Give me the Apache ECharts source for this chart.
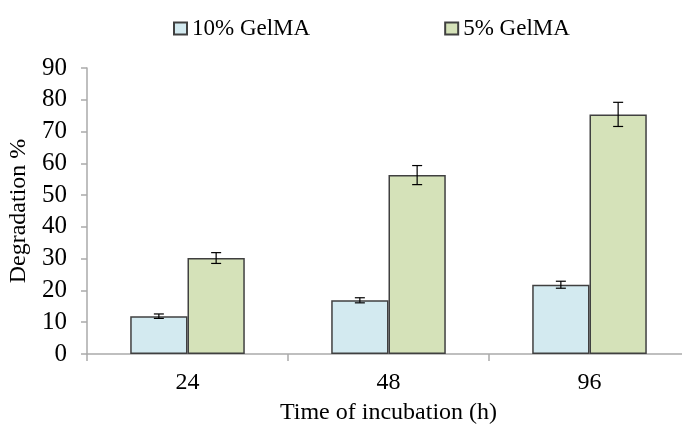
<!DOCTYPE html>
<html>
<head>
<meta charset="utf-8">
<script src="https://cdn.jsdelivr.net/npm/echarts@6/dist/echarts.min.js"></script>
<style>
html,body{margin:0;padding:0;background:#fff;}
#chart{width:682px;height:426px;}
</style>
</head>
<body>
<div id="chart"></div>
<script>
const categories = ['24', '48', '96'];
const seriesNames = ['10% GelMA', '5% GelMA'];
const gel10 = [11.9, 16.9, 21.8];
const gel10Err = [0.7, 0.8, 1.1];
const gel5 = [30.2, 56.3, 75.4];
const gel5Err = [1.7, 3.0, 3.8];
const yTicks = { min: 0, max: 90, interval: 10 };

const FONT = '"Liberation Serif","Times New Roman",serif';
const GAP = 0.43;

function errorSeries(values, errs, idx) {
  return {
    type: 'custom',
    silent: true,
    z: 10,
    data: values.map((v, i) => [i, v, errs[i]]),
    renderItem: function (params, api) {
      const ci = api.value(0), v = api.value(1), e = api.value(2);
      const band = api.size([1, 0])[0];
      const bw = band * (1 - GAP) / 2;
      const base = api.coord([ci, v]);
      const x = base[0] + (idx === 0 ? -bw / 2 : bw / 2);
      const yHi = api.coord([ci, v + e])[1];
      const yLo = api.coord([ci, v - e])[1];
      const cap = 5;
      const st = { stroke: '#000', lineWidth: 1.2, fill: null };
      return {
        type: 'group',
        children: [
          { type: 'line', shape: { x1: x, y1: yHi, x2: x, y2: yLo }, style: st },
          { type: 'line', shape: { x1: x - cap, y1: yHi, x2: x + cap, y2: yHi }, style: st },
          { type: 'line', shape: { x1: x - cap, y1: yLo, x2: x + cap, y2: yLo }, style: st }
        ]
      };
    }
  };
}

const chart = echarts.init(document.getElementById('chart'), null, { renderer: 'canvas' });
chart.setOption({
  animation: false,
  backgroundColor: '#fff',
  textStyle: { fontFamily: FONT },
  legend: {
    data: seriesNames,
    left: 173,
    top: 17,
    padding: 0,
    itemWidth: 13,
    itemHeight: 12,
    itemGap: 134,
    icon: 'rect',
    textStyle: { fontFamily: FONT, fontSize: 23, color: '#000' }
  },
  grid: { left: 87, top: 68, width: 603, bottom: 72, containLabel: false, outerBoundsMode: 'none' },
  xAxis: {
    type: 'category',
    data: categories,
    name: 'Time of incubation (h)',
    nameLocation: 'middle',
    nameGap: 47,
    nameTextStyle: { fontFamily: FONT, fontSize: 24, color: '#000' },
    axisLine: { lineStyle: { color: '#aaaaaa', width: 1.5 } },
    axisTick: { show: true, length: 7, lineStyle: { color: '#aaaaaa', width: 1.5 } },
    axisLabel: { fontFamily: FONT, fontSize: 24, color: '#000', margin: 17 }
  },
  yAxis: {
    type: 'value',
    min: yTicks.min,
    max: yTicks.max,
    interval: yTicks.interval,
    name: 'Degradation %',
    nameLocation: 'middle',
    nameGap: 53,
    nameTextStyle: { fontFamily: FONT, fontSize: 24, color: '#000' },
    axisLine: { show: true, lineStyle: { color: '#aaaaaa', width: 1.5 } },
    axisTick: { show: true, length: 6, lineStyle: { color: '#aaaaaa', width: 1.5 } },
    splitLine: { show: false },
    axisLabel: { fontFamily: FONT, fontSize: 25, color: '#000', margin: 20 }
  },
  series: [
    {
      name: seriesNames[0], type: 'bar', data: gel10,
      barGap: '0%', barCategoryGap: (GAP * 100) + '%',
      itemStyle: { color: '#d3eaf0', borderColor: '#404040', borderWidth: 1.5 }
    },
    {
      name: seriesNames[1], type: 'bar', data: gel5,
      barGap: '0%', barCategoryGap: (GAP * 100) + '%',
      itemStyle: { color: '#d5e2b9', borderColor: '#404040', borderWidth: 1.5 }
    },
    errorSeries(gel10, gel10Err, 0),
    errorSeries(gel5, gel5Err, 1)
  ]
});
</script>
</body>
</html>
